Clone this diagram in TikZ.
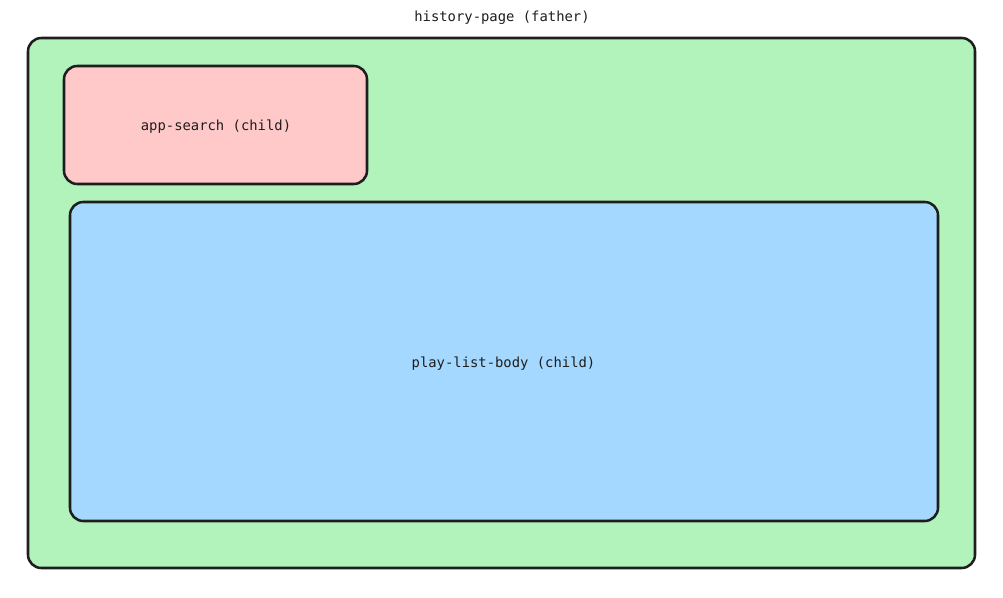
\documentclass[tikz,border=0pt]{standalone}
\usepackage{fontspec}
\setmonofont{DejaVu Sans Mono}
\usepackage{tikz}

\definecolor{ink}{HTML}{1E1E1E}
\definecolor{fathergreen}{HTML}{B2F2BB}
\definecolor{childred}{HTML}{FFC9C9}
\definecolor{childblue}{HTML}{A5D8FF}

\begin{document}
\begin{tikzpicture}[x=0.75pt,y=-0.75pt,line width=1.9pt,font=\fontsize{10.4}{12}\ttfamily\color{ink},
  box/.style={draw=ink,rounded corners=10pt,inner sep=0pt,outer sep=0pt}]
\useasboundingbox (0,0) rectangle (1003,598);
\node[box,fill=fathergreen,minimum width=710.25pt,minimum height=397.5pt] (father) at (501.5,303) {};
\node[anchor=base] (title) at (502,21.5) {history-page (father)};
\node[box,fill=childred,minimum width=227.25pt,minimum height=88.5pt] (search) at (215.5,125) {};
\node (searchlabel) at (216,127) {app-search (child)};
\node[box,fill=childblue,minimum width=651pt,minimum height=239.25pt] (playlist) at (504,361.5) {};
\node (playlistlabel) at (503.5,363.5) {play-list-body (child)};
\end{tikzpicture}
\end{document}
